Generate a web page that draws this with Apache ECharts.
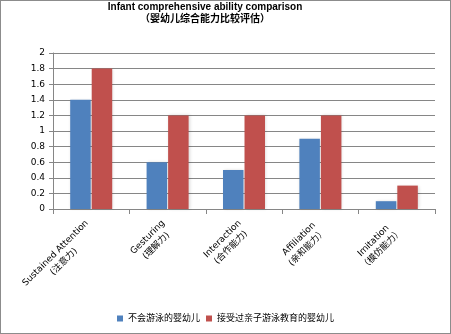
<!DOCTYPE html>
<html><head><meta charset="utf-8">
<script src="https://cdn.jsdelivr.net/npm/echarts@6/dist/echarts.min.js"></script>
<style>html,body{margin:0;padding:0;background:#fff}#c{width:449px;height:332px;border:1px solid #8c8c8c}</style>
</head><body><div id="c"></div>
<script>
var categories = ["Sustained Attention\n(注意力)", "Gesturing\n(理解力)", "Interaction\n(合作能力)", "Affiliation\n(亲和能力）", "Imitation\n（模仿能力）"];
var seriesNames = ["不会游泳的婴幼儿", "接受过亲子游泳教育的婴幼儿"];
var noSwim = [1.4, 0.6, 0.5, 0.9, 0.1];
var swim = [1.8, 1.2, 1.2, 1.2, 0.3];
var chart = echarts.init(document.getElementById('c'));
var font = '"DejaVu Sans", "Noto Sans CJK SC", sans-serif';
var tfont = '"Liberation Sans", "Noto Sans CJK SC", sans-serif';
chart.setOption({
  animation: false,
  textStyle: {fontFamily: font},
  title: {
    text: 'Infant comprehensive ability comparison',
    subtext: '（婴幼儿综合能力比较评估）',
    left: 199, top: -4, textAlign: 'center', itemGap: 2,
    textStyle: {fontSize: 10, fontWeight: 'bold', color: '#000', fontFamily: tfont},
    subtextStyle: {fontSize: 10, fontWeight: 'bold', color: '#000', fontFamily: tfont}
  },
  legend: {
    bottom: 5, left: 'center', itemWidth: 6, itemHeight: 6, itemGap: 6,
    icon: 'rect', textStyle: {fontSize: 9, color: '#000', fontFamily: font},
    data: seriesNames
  },
  grid: {left: 52, right: 15, top: 52, bottom: 124},
  xAxis: {
    type: 'category', data: categories,
    axisLine: {lineStyle: {color: '#868686'}},
    axisTick: {show: true, length: 5, lineStyle: {color: '#868686'}},
    axisLabel: {
      rotate: 45, fontSize: 9, color: '#000', interval: 0, margin: 17, fontFamily: font,
      formatter: function (v) { return v.split('\n').map(function (s) { return '{a|' + s + '}'; }).join('\n'); },
      rich: {a: {align: 'center', fontSize: 9, color: '#000', fontFamily: font, lineHeight: 12}}
    }
  },
  yAxis: {
    type: 'value', min: 0, max: 2, interval: 0.2,
    axisLine: {show: true, lineStyle: {color: '#868686'}},
    axisTick: {show: true, length: 4, lineStyle: {color: '#868686'}},
    axisLabel: {fontSize: 9, color: '#000', margin: 8, fontFamily: font},
    splitLine: {lineStyle: {color: '#868686'}}
  },
  series: [
    {name: seriesNames[0], type: 'bar', data: noSwim, barGap: '5%', barCategoryGap: '45%',
     itemStyle: {color: '#4F81BD', shadowColor: 'rgba(0,0,0,0.15)', shadowBlur: 3, shadowOffsetX: 1}},
    {name: seriesNames[1], type: 'bar', data: swim,
     itemStyle: {color: '#C0504D', shadowColor: 'rgba(0,0,0,0.15)', shadowBlur: 3, shadowOffsetX: 1}}
  ]
});
</script></body></html>
